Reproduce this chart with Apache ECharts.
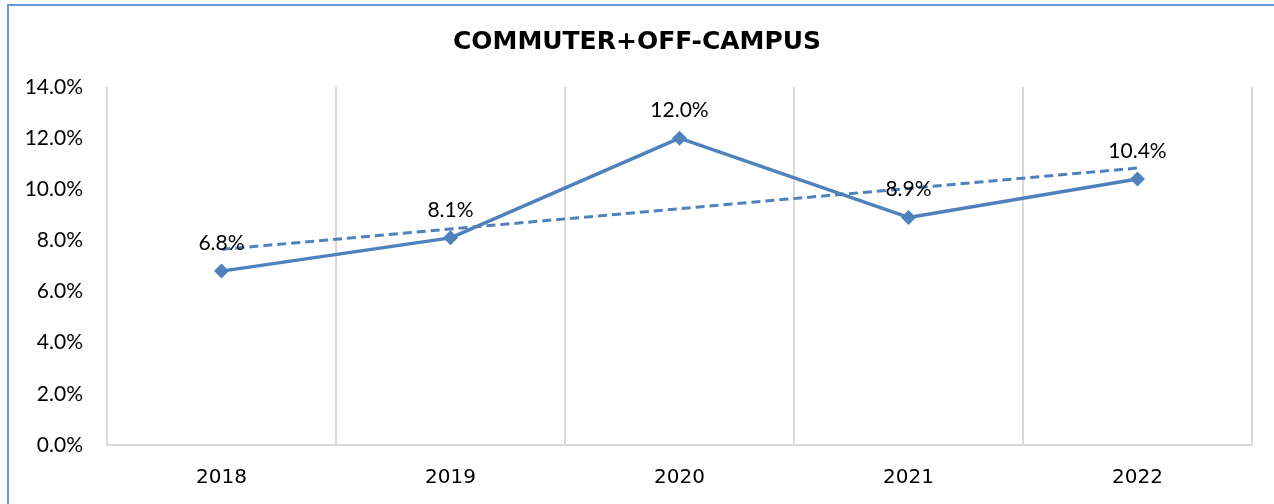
<!DOCTYPE html>
<html>
<head>
<meta charset="utf-8">
<script src="https://cdn.jsdelivr.net/npm/echarts@6/dist/echarts.min.js"></script>
<style>
  html, body { margin: 0; padding: 0; background: #ffffff; }
  #wrap { position: relative; width: 1274px; height: 504px; overflow: hidden; }
  #chart { position: absolute; left: 0; top: 0; width: 1274px; height: 504px; }
  #frame { position: absolute; left: 7px; top: 4px; width: 1280px; height: 520px;
           border-top: 2px solid #6b98d6; border-left: 2px solid #6b98d6; pointer-events: none; }
</style>
</head>
<body>
<div id="wrap">
  <div id="chart"></div>
  <div id="frame"></div>
</div>
<script>
const titleText = 'COMMUTER+OFF-CAMPUS';
const categories = ['2018', '2019', '2020', '2021', '2022'];
const values = [6.8, 8.1, 12.0, 8.9, 10.4];
// linear trendline (start and end points)
const trendValues = [7.65, null, null, null, 10.83];
const yTicks = { min: 0, max: 14, interval: 2 };

const chart = echarts.init(document.getElementById('chart'), null, { renderer: 'canvas' });
const blue = '#4f81bd';
chart.setOption({
  animation: false,
  backgroundColor: '#ffffff',
  title: {
    text: titleText,
    left: 'center',
    top: 30,
    padding: 0,
    textStyle: { fontFamily: 'DejaVu Sans', fontWeight: 'bold', fontSize: 25, color: '#000000' }
  },
  grid: { left: 107, right: 22, top: 87, bottom: 59, containLabel: false },
  xAxis: {
    type: 'category',
    data: categories,
    boundaryGap: true,
    axisLine: { show: true, lineStyle: { color: '#d9d9d9', width: 2 } },
    axisTick: { show: false },
    splitLine: { show: true, lineStyle: { color: '#d9d9d9', width: 2 } },
    axisLabel: { margin: 23, fontFamily: 'DejaVu Sans', fontSize: 20, color: '#000000' }
  },
  yAxis: {
    type: 'value',
    min: yTicks.min,
    max: yTicks.max,
    interval: yTicks.interval,
    axisLine: { show: false },
    axisTick: { show: false },
    splitLine: { show: false },
    axisLabel: {
      margin: 24, fontFamily: 'Lato', fontSize: 21, color: '#000000',
      formatter: v => v.toFixed(1) + '%'
    }
  },
  series: [
    {
      name: 'trend',
      type: 'line',
      data: trendValues,
      connectNulls: true,
      symbol: 'none',
      silent: true,
      lineStyle: { color: blue, width: 3, type: [9, 5] },
      z: 2
    },
    {
      name: 'value',
      type: 'line',
      data: values,
      symbol: 'diamond',
      symbolSize: 15,
      itemStyle: { color: blue },
      lineStyle: { color: blue, width: 3.5 },
      label: {
        show: true, position: 'top', distance: 10,
        fontFamily: 'Lato', fontSize: 21, color: '#000000',
        formatter: p => p.value.toFixed(1) + '%'
      },
      z: 3
    }
  ]
});
</script>
</body>
</html>
